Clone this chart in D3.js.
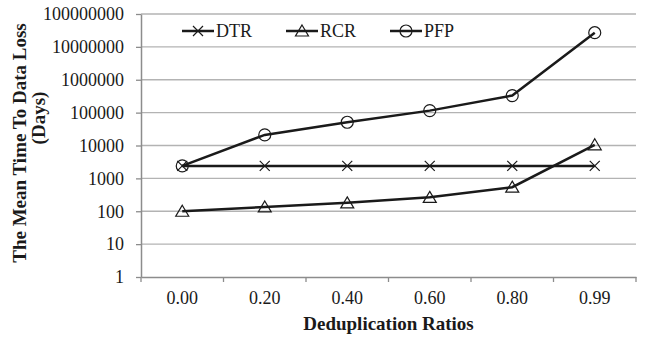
<!DOCTYPE html>
<html>
<head>
<meta charset="utf-8">
<script src="https://cdn.jsdelivr.net/npm/d3@7"></script>
<style>
  body { margin: 0; background: #fff; }
  text { font-family: "Liberation Serif", "Times New Roman", serif; }
</style>
</head>
<body>
<svg width="649" height="340"></svg>
<script>
// chart data
const ratios = ['0.00', '0.20', '0.40', '0.60', '0.80', '0.99']
const dtr = [2400, 2400, 2400, 2400, 2400, 2400]
const rcr = [100, 135, 180, 265, 540, 10500]
const pfp = [2400, 21000, 51000, 115000, 330000, 27000000]
const yTicks = [1, 10, 100, 1000, 10000, 100000, 1000000, 10000000, 100000000]

const series = [
    { name: 'DTR', values: dtr, marker: 'x' },
    { name: 'RCR', values: rcr, marker: 'tri' },
    { name: 'PFP', values: pfp, marker: 'circle' }
]

const MARGINS = { left: 141, right: 13, top: 14, bottom: 63 }
const WIDTH = 649, HEIGHT = 340

const svg = d3.select('svg')

const x = d3.scaleBand().domain(ratios).range([MARGINS.left, WIDTH - MARGINS.right])
const y = d3.scaleLog().domain([1, 100000000]).range([HEIGHT - MARGINS.bottom, MARGINS.top])

// gridlines
svg.append('g')
    .selectAll('line')
    .data(yTicks.slice(1))
    .enter()
    .append('line')
    .attr('x1', MARGINS.left)
    .attr('x2', WIDTH - MARGINS.right)
    .attr('y1', d => y(d))
    .attr('y2', d => y(d))
    .attr('stroke', '#b3b3b3')
    .attr('stroke-width', 1.3)

// y axis
const yAxis = svg.append('g')
    .attr('transform', `translate(${MARGINS.left},0)`)
    .call(d3.axisLeft(y).tickValues(yTicks).tickFormat(d3.format('d')).tickSize(5).tickPadding(12).tickSizeOuter(0))
yAxis.select('.domain').attr('stroke', '#8c8c8c').attr('stroke-width', 1.5)
yAxis.selectAll('.tick line').attr('stroke', '#8c8c8c').attr('stroke-width', 1.3)
yAxis.selectAll('.tick text').attr('font-size', 18).attr('fill', '#1a1a1a')
    .style('font-family', '"Liberation Serif", serif')

// x axis, ticks between bands
const xAxis = svg.append('g')
    .attr('transform', `translate(0,${HEIGHT - MARGINS.bottom})`)
    .call(d3.axisBottom(x).tickSize(0).tickPadding(14))
xAxis.select('.domain').attr('stroke', '#8c8c8c').attr('stroke-width', 1.5)
xAxis.selectAll('.tick text').attr('font-size', 18).attr('fill', '#1a1a1a')
    .style('font-family', '"Liberation Serif", serif')
xAxis.selectAll('.sep')
    .data(ratios.map(r => x(r)).concat([x(ratios[ratios.length - 1]) + x.bandwidth()]))
    .enter()
    .append('line')
    .attr('x1', d => d)
    .attr('x2', d => d)
    .attr('y1', 0)
    .attr('y2', 5)
    .attr('stroke', '#8c8c8c')
    .attr('stroke-width', 1.3)

// markers
function drawMarker(g, type, cx, cy) {
    if (type === 'x') {
        const s = 5
        g.append('path')
            .attr('d', `M${cx - s},${cy - s}L${cx + s},${cy + s}M${cx - s},${cy + s}L${cx + s},${cy - s}`)
            .attr('stroke', '#1a1a1a').attr('stroke-width', 1.2).attr('fill', 'none')
    } else if (type === 'tri') {
        g.append('path')
            .attr('d', `M${cx},${cy - 6}L${cx + 6.5},${cy + 5}L${cx - 6.5},${cy + 5}Z`)
            .attr('stroke', '#1a1a1a').attr('stroke-width', 1.2).attr('fill', 'none')
    } else {
        g.append('circle')
            .attr('cx', cx).attr('cy', cy).attr('r', 6)
            .attr('stroke', '#1a1a1a').attr('stroke-width', 1.2).attr('fill', 'none')
    }
}

const line = d3.line()
    .x((d, i) => x(ratios[i]) + x.bandwidth() / 2)
    .y(d => y(d))

series.forEach(s => {
    const g = svg.append('g')
    g.append('path')
        .attr('d', line(s.values))
        .attr('fill', 'none')
        .attr('stroke', '#1a1a1a')
        .attr('stroke-width', 2.5)
    s.values.forEach((v, i) => drawMarker(g, s.marker, x(ratios[i]) + x.bandwidth() / 2, y(v)))
})

// legend
const legendX = [182, 286, 390]
series.forEach((s, i) => {
    const g = svg.append('g')
    const lx = legendX[i], ly = 31
    g.append('line')
        .attr('x1', lx).attr('x2', lx + 32)
        .attr('y1', ly).attr('y2', ly)
        .attr('stroke', '#1a1a1a').attr('stroke-width', 2.5)
    drawMarker(g, s.marker, lx + 16, ly)
    g.append('text')
        .attr('x', lx + 34).attr('y', ly + 6)
        .attr('font-size', 18).attr('fill', '#1a1a1a')
        .text(s.name)
})

// axis titles
svg.append('text')
    .attr('x', (MARGINS.left + WIDTH - MARGINS.right) / 2)
    .attr('y', 330)
    .attr('text-anchor', 'middle')
    .attr('font-size', 19).attr('font-weight', 'bold').attr('fill', '#1a1a1a')
    .text('Deduplication Ratios')

svg.append('text')
    .attr('transform', 'translate(26,143) rotate(-90)')
    .attr('text-anchor', 'middle')
    .attr('font-size', 19).attr('font-weight', 'bold').attr('fill', '#1a1a1a')
    .text('The Mean Time To Data Loss')

svg.append('text')
    .attr('transform', 'translate(45,118) rotate(-90)')
    .attr('text-anchor', 'middle')
    .attr('font-size', 19).attr('font-weight', 'bold').attr('fill', '#1a1a1a')
    .text('(Days)')
</script>
</body>
</html>
